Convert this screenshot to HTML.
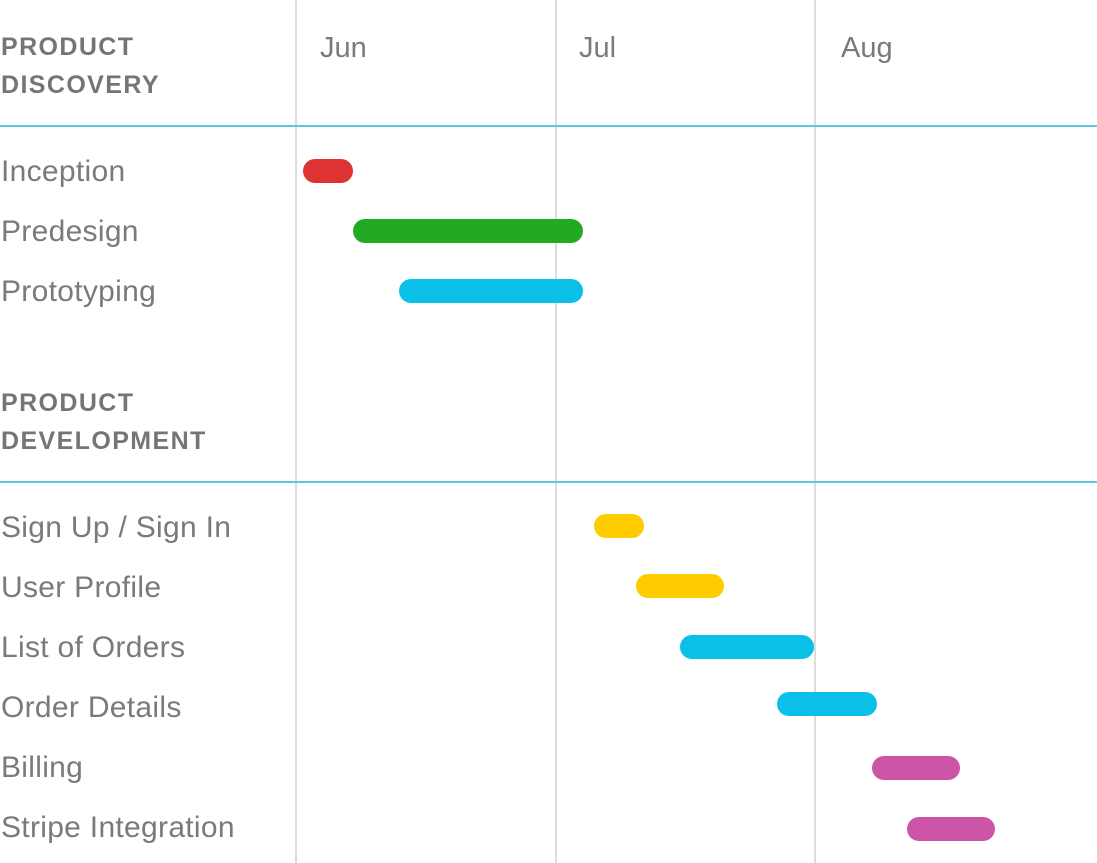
<!DOCTYPE html>
<html><head><meta charset="utf-8"><style>
body{margin:0;width:1097px;height:863px;background:#fff;position:relative;overflow:hidden;font-family:"Liberation Sans",sans-serif;}
.v{position:absolute;top:0;width:2px;height:863px;background:#dcdcdc;}
.h{position:absolute;left:0;width:1097px;height:2px;background:#5bc8e0;}
.t{position:absolute;left:1px;color:#7a7a7a;font-size:30px;letter-spacing:0.3px;white-space:nowrap;line-height:1;}
.hd{position:absolute;left:1px;color:#757575;font-size:25px;font-weight:bold;line-height:38px;letter-spacing:1.4px;}
.m{position:absolute;top:32px;color:#7a7a7a;font-size:29px;}
.b{position:absolute;height:24px;border-radius:12px;}
</style></head><body>
<div class="v" style="left:295px"></div>
<div class="v" style="left:555px"></div>
<div class="v" style="left:814px"></div>
<div class="h" style="top:125px"></div>
<div class="h" style="top:481px"></div>
<div class="hd" style="top:28px">PRODUCT<br>DISCOVERY</div>
<div class="hd" style="top:384px">PRODUCT<br>DEVELOPMENT</div>
<div class="m" style="left:320px">Jun</div>
<div class="m" style="left:579px">Jul</div>
<div class="m" style="left:841px">Aug</div>
<div class="t" style="top:157px">Inception</div>
<div class="t" style="top:217px">Predesign</div>
<div class="t" style="top:277px">Prototyping</div>
<div class="t" style="top:513px">Sign Up / Sign In</div>
<div class="t" style="top:573px">User Profile</div>
<div class="t" style="top:633px">List of Orders</div>
<div class="t" style="top:693px">Order Details</div>
<div class="t" style="top:753px">Billing</div>
<div class="t" style="top:813px">Stripe Integration</div>
<div class="b" style="left:303px;width:50px;top:159px;background:#de3333"></div>
<div class="b" style="left:353px;width:230px;top:219px;background:#22aa22"></div>
<div class="b" style="left:399px;width:184px;top:279px;background:#0bc0e6"></div>
<div class="b" style="left:594px;width:50px;top:514px;background:#ffcc00"></div>
<div class="b" style="left:636px;width:88px;top:574px;background:#ffcc00"></div>
<div class="b" style="left:680px;width:134px;top:635px;background:#0bc0e6"></div>
<div class="b" style="left:777px;width:100px;top:692px;background:#0bc0e6"></div>
<div class="b" style="left:872px;width:88px;top:756px;background:#cc55a8"></div>
<div class="b" style="left:907px;width:88px;top:817px;background:#cc55a8"></div>
</body></html>
